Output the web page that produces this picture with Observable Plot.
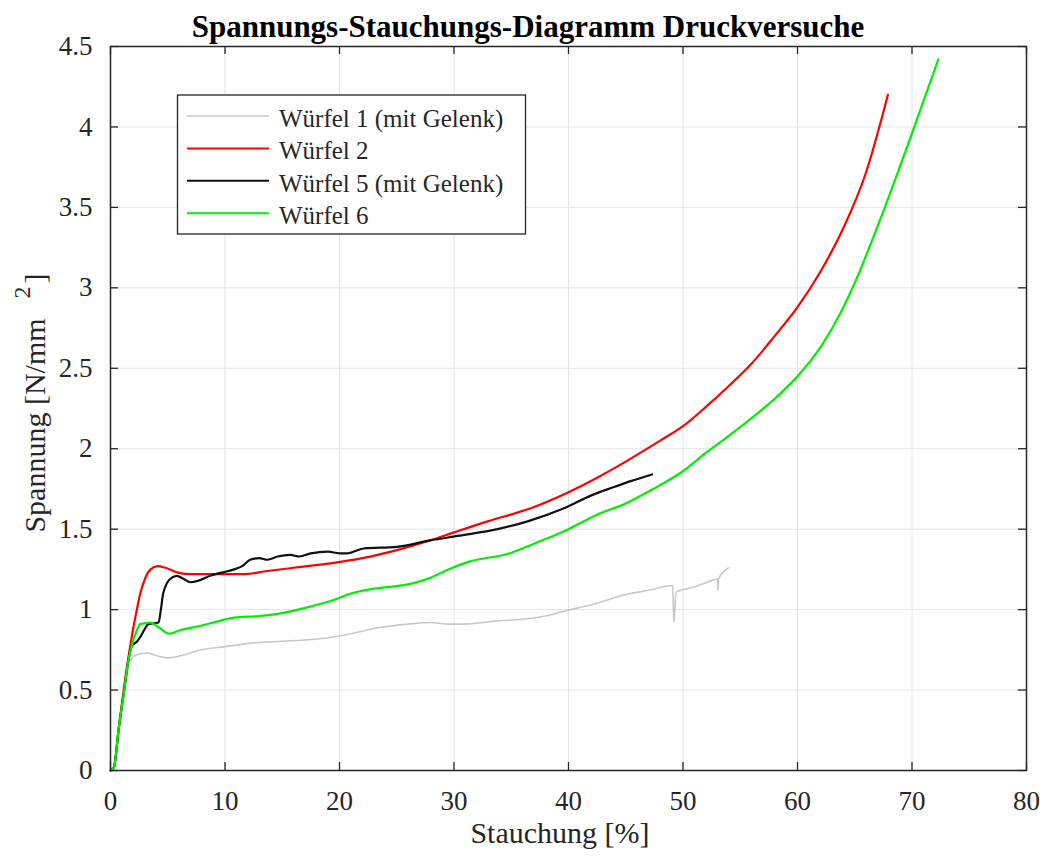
<!DOCTYPE html>
<html>
<head>
<meta charset="utf-8">
<script src="https://cdn.jsdelivr.net/npm/d3@7"></script>
<script src="https://cdn.jsdelivr.net/npm/@observablehq/plot@0.6"></script>
<style>
  body { margin: 0; background: #fff; }
  svg { display: block; }
</style>
</head>
<body>
<div id="chart"></div>
<script>
// ---- data (Stauchung [%], Spannung [N/mm²]) ----
const seriesNames = ["Würfel 1 (mit Gelenk)", "Würfel 2", "Würfel 5 (mit Gelenk)", "Würfel 6"];
const seriesColors = ["#c8c8c8", "#ff0000", "#111111", "#00ee00"];

const wuerfel1 = [
  [0,0],[0.3,0.02],[0.7,0.25],[1.2,0.5],[1.6,0.66],[1.9,0.70],[2.3,0.72],[3.2,0.73],[4.2,0.71],
  [5.0,0.70],[6.5,0.72],[7.9,0.75],[10,0.77],[12.2,0.79],[14,0.80],[16.6,0.81],[18.5,0.82],
  [21,0.85],[23.6,0.89],[26,0.91],[27.9,0.92],[29.4,0.91],[31,0.91],[33.8,0.93],[36,0.94],
  [38,0.96],[39.6,0.99],[42,1.03],[45.4,1.10],[47,1.12],[49.1,1.15],[49.2,0.92],[49.4,1.11],
  [51,1.14],[52.1,1.17],[53.0,1.19],[53.05,1.12],[53.1,1.19],[54.0,1.26]
];
const wuerfel2 = [
  [0,0],[0.3,0.02],[0.7,0.25],[1.15,0.5],[1.6,0.72],[1.9,0.85],[2.3,1.0],[2.6,1.1],[3.0,1.19],
  [3.5,1.25],[4.1,1.27],[4.8,1.26],[5.9,1.23],[7,1.22],[8.5,1.22],[9.9,1.22],[11.5,1.22],
  [13.7,1.24],[16,1.26],[19.5,1.29],[22,1.32],[25,1.37],[27.9,1.43],[30,1.48],[33,1.55],
  [36.7,1.63],[40,1.73],[42.5,1.82],[45,1.92],[48,2.05],[50,2.14],[52,2.26],[54,2.39],
  [56,2.53],[58,2.70],[60,2.88],[62,3.10],[64,3.37],[66,3.72],[67.9,4.20]
];
const wuerfel5 = [
  [0,0],[0.3,0.02],[0.7,0.25],[1.2,0.5],[1.6,0.70],[1.9,0.78],[2.3,0.80],[2.6,0.83],[3.0,0.88],
  [3.3,0.91],[4.2,0.92],[4.4,1.0],[4.6,1.10],[5.2,1.19],[5.8,1.21],[6.4,1.19],[7.0,1.17],
  [7.7,1.18],[8.7,1.21],[9.7,1.23],[10.8,1.25],[11.5,1.27],[12.2,1.31],[13.0,1.32],[13.7,1.31],
  [14.6,1.33],[15.7,1.34],[16.5,1.33],[17.5,1.35],[19,1.36],[20,1.35],[20.7,1.35],[22.1,1.38],
  [25,1.39],[27.9,1.43],[30.5,1.46],[33.8,1.50],[36.5,1.55],[39.6,1.63],[42,1.71],[43.9,1.76],
  [45.5,1.80],[47.3,1.84]
];
const wuerfel6 = [
  [0,0],[0.3,0.02],[0.7,0.25],[1.2,0.5],[1.6,0.70],[1.9,0.79],[2.3,0.87],[2.6,0.91],[3.5,0.92],
  [4.2,0.89],[5.1,0.85],[6,0.87],[7.9,0.90],[9,0.92],[10.8,0.95],[13,0.96],[15.1,0.98],
  [17.5,1.02],[19.5,1.06],[21,1.10],[23,1.13],[26.2,1.16],[28,1.20],[29.5,1.25],[31.4,1.30],
  [34.9,1.35],[37,1.41],[40,1.50],[42.5,1.59],[45,1.66],[47.4,1.75],[50,1.86],[52.1,1.98],
  [54,2.08],[56,2.19],[58,2.31],[60,2.45],[62,2.63],[63.8,2.85],[65,3.03],[66.6,3.31],
  [68,3.57],[69.6,3.88],[71,4.16],[72.3,4.42]
];
const seriesValues = [wuerfel1, wuerfel2, wuerfel5, wuerfel6];

const xTicks = [0, 10, 20, 30, 40, 50, 60, 70, 80];
const yTicks = [0, 0.5, 1, 1.5, 2, 2.5, 3, 3.5, 4, 4.5];

const titleText = "Spannungs-Stauchungs-Diagramm Druckversuche";
const xLabelText = "Stauchung [%]";
const yLabelMain = "Spannung [N/mm";
const yLabelSup = "2";
const yLabelEnd = "]";

// ---- build table ----
const rows = seriesValues.flatMap((vals, i) =>
  vals.map(([x, y]) => ({series: seriesNames[i], x, y})));

const FONT = "'Liberation Serif', 'Times New Roman', serif";
const W = 1043, H = 860, ML = 110, MR = 17, MT = 46, MB = 90;
const PW = W - ML - MR, PH = H - MT - MB, TICK = 8;
const axisColor = "#262626";

const lineMarks = seriesNames.map((name, i) =>
  Plot.line(rows.filter(d => d.series === name), {
    x: "x", y: "y",
    stroke: seriesColors[i],
    strokeWidth: i === 0 ? 1.6 : 2.2,
    strokeLinejoin: "round",
    curve: "monotone-x"
  }));

const chart = Plot.plot({
  width: W, height: H,
  marginLeft: ML, marginRight: MR, marginTop: MT, marginBottom: MB,
  style: {fontFamily: FONT, fontSize: "27px", color: axisColor, background: "#fff"},
  x: {domain: [0, 80]},
  y: {domain: [0, 4.5]},
  marks: [
    Plot.gridX(xTicks, {stroke: "#e4e4e4", strokeOpacity: 1, strokeWidth: 1}),
    Plot.gridY(yTicks, {stroke: "#e4e4e4", strokeOpacity: 1, strokeWidth: 1}),
    Plot.axisX(xTicks, {tickSize: 0, tickPadding: 20, label: null, fontSize: 27, tickFormat: d => String(d)}),
    Plot.axisY(yTicks, {tickSize: 0, tickPadding: 18, label: null, fontSize: 27, tickFormat: d => String(d)}),
    // inward ticks on all four sides
    Plot.tickX(xTicks, {x: d => d, insetTop: PH - TICK, stroke: axisColor, strokeWidth: 1.3}),
    Plot.tickX(xTicks, {x: d => d, insetBottom: PH - TICK, stroke: axisColor, strokeWidth: 1.3}),
    Plot.tickY(yTicks, {y: d => d, insetRight: PW - TICK, stroke: axisColor, strokeWidth: 1.3}),
    Plot.tickY(yTicks, {y: d => d, insetLeft: PW - TICK, stroke: axisColor, strokeWidth: 1.3}),
    ...lineMarks,
    Plot.frame({stroke: axisColor, strokeWidth: 1.5})
  ]
});

document.getElementById("chart").appendChild(chart);

// ---- title, axis labels, legend ----
const svg = d3.select(chart);

svg.append("text")
  .attr("x", 528).attr("y", 37)
  .attr("text-anchor", "middle")
  .attr("font-family", FONT).attr("font-size", 31).attr("font-weight", "bold")
  .attr("fill", "#000")
  .text(titleText);

svg.append("text")
  .attr("x", 560).attr("y", 843)
  .attr("text-anchor", "middle")
  .attr("font-family", FONT).attr("font-size", 30)
  .attr("fill", axisColor)
  .text(xLabelText);

const yl = svg.append("text")
  .attr("transform", "translate(45,403) rotate(-90)")
  .attr("text-anchor", "middle")
  .attr("font-family", FONT).attr("font-size", 30)
  .attr("fill", axisColor);
yl.append("tspan").text(yLabelMain);
yl.append("tspan").attr("dx", 20).attr("dy", -15).attr("font-size", 24).text(yLabelSup);
yl.append("tspan").attr("dx", 3).attr("dy", 15).text(yLabelEnd);

const lg = svg.append("g");
lg.append("rect")
  .attr("x", 177.5).attr("y", 95).attr("width", 348).attr("height", 139)
  .attr("fill", "#fff").attr("stroke", axisColor).attr("stroke-width", 1.3);
seriesNames.forEach((name, i) => {
  const base = 127 + i * 32.4;
  lg.append("line")
    .attr("x1", 187).attr("x2", 269)
    .attr("y1", base - 11).attr("y2", base - 11)
    .attr("stroke", seriesColors[i]).attr("stroke-width", i === 0 ? 1.6 : 2);
  lg.append("text")
    .attr("x", 279).attr("y", base)
    .attr("text-anchor", "start")
    .attr("font-family", FONT).attr("font-size", 25)
    .attr("fill", axisColor)
    .text(name);
});
</script>
</body>
</html>
